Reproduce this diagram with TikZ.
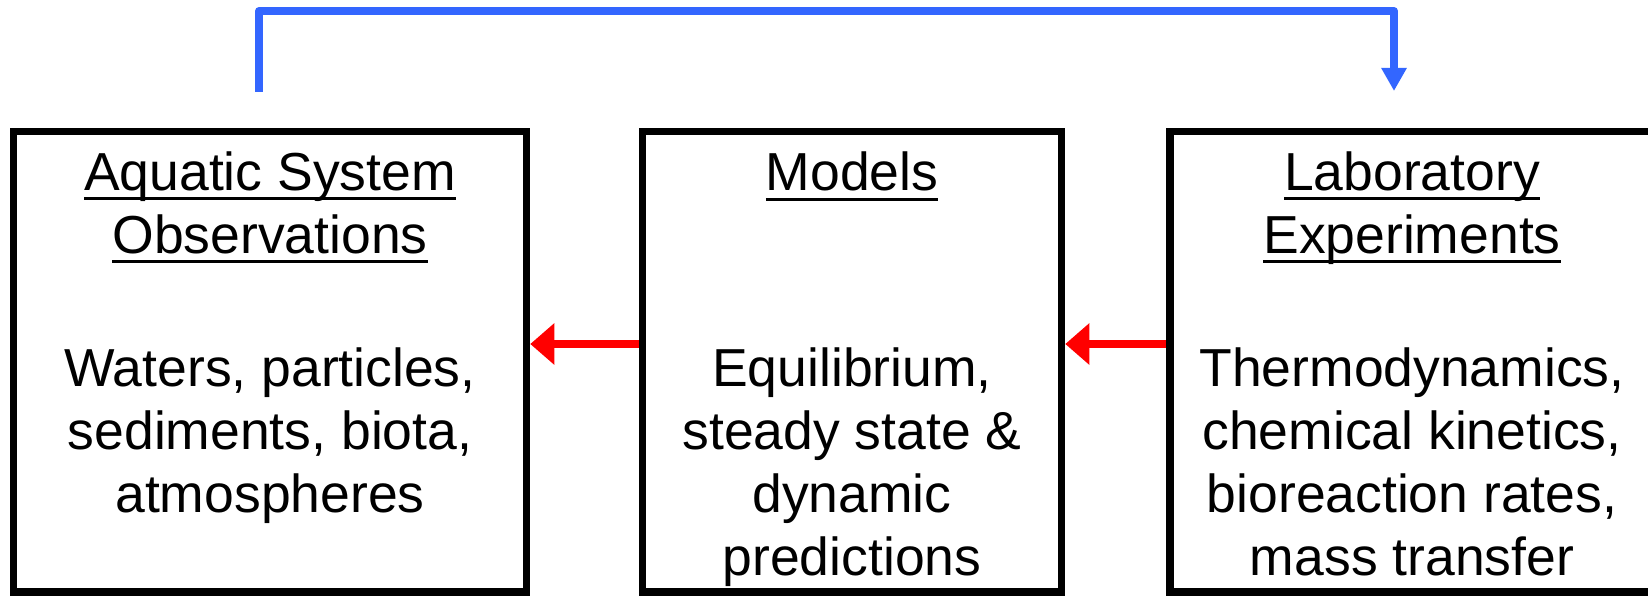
\documentclass[tikz,border=0pt]{standalone}
\usepackage{fontspec}
\setmainfont{Liberation Sans}
\usetikzlibrary{arrows.meta}
\definecolor{flowblue}{RGB}{51,102,255}
\definecolor{flowred}{RGB}{255,0,0}
\newcommand\uttl[1]{\leavevmode\setbox0\hbox{#1}\rlap{\vrule height -7pt depth 10pt width \wd0}\box0}
\begin{document}
\begin{tikzpicture}[x=1pt,y=-1pt,
  box/.style={draw=black, line width=7.5pt, minimum height=460.5pt, inner sep=0pt},
  txt/.style={font=\fontsize{53.5}{63}\selectfont, align=center, inner sep=0pt, anchor=base},
  redarrow/.style={draw=flowred, line width=8pt, -{Triangle[length=24pt,width=40pt]}},
  bluearrow/.style={draw=flowblue, line width=8pt, line join=round, -{Triangle[length=23pt,width=24pt]}}
]
\useasboundingbox (0,0) rectangle (1648,596);
\node[box, minimum width=513pt] (obs) at (270,361.75) {};
\node[box, minimum width=419pt] (mod) at (852,361.75) {};
\node[box, minimum width=484pt] (lab) at (1412,361.75) {};
% base anchor = baseline of the last line
\node[txt] (obsT) at (270,253) {\uttl{Aquatic System}\\\uttl{Observations}};
\node[txt] (modT) at (852,191) {\uttl{Models}};
\node[txt] (labT) at (1412,253) {\uttl{Laboratory}\\\uttl{Experiments}};
\node[txt] (obsB) at (270,512) {Waters, particles,\\sediments, biota,\\atmospheres};
\node[txt] (modB) at (852,575) {Equilibrium,\\steady state \&\\dynamic\\predictions};
\node[txt] (labB) at (1412,575) {Thermodynamics,\\chemical kinetics,\\bioreaction rates,\\mass transfer};
\coordinate (ay) at (0,344);
\draw[redarrow] (mod.west |- ay) -- (obs.east |- ay);
\draw[redarrow] (lab.west |- ay) -- (mod.east |- ay);
\coordinate (bs) at (259,92);
\coordinate (be) at (1394,91);
\coordinate (btop) at (0,11);
\draw[bluearrow] (bs) -- (bs |- btop) -- (be |- btop) -- (be);
\end{tikzpicture}
\end{document}
